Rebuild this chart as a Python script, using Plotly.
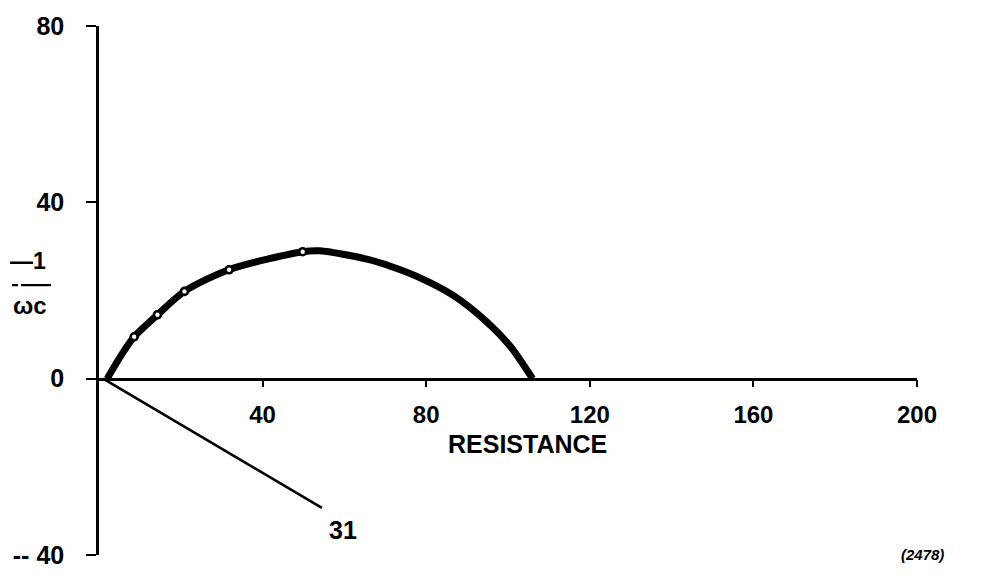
import plotly.graph_objects as go

# Impedance locus: resistance vs -1/(omega*C)
arc_r = [2.0, 4.3, 6.4, 8.6, 14.3, 20.9, 31.8, 49.8, 54.0, 65.5, 71.6, 77.7, 86.6, 94.8, 100.5, 106.0]
arc_x = [0.0, 3.6, 6.7, 9.5, 14.5, 19.8, 24.7, 28.8, 29.0, 27.1, 25.4, 23.2, 18.9, 12.9, 7.4, 0.0]

# measured points on the arc
pts_r = [8.6, 14.3, 20.9, 31.8, 49.8]
pts_x = [9.5, 14.5, 19.8, 24.7, 28.8]

# straight line ending at label "31"
ray_r = [1.0, 54.5]
ray_x = [0.0, -29.3]
ray_label = "31"
ray_label_pos = (59.7, -34.3)

x_ticks = [40, 80, 120, 160, 200]
x_ticktext = ["40", "80", "120", "160", "200"]
y_ticks = [-40, 0, 40, 80]
y_ticktext = ["-- 40", "0", "40", "80"]

FONT = "Liberation Sans, Arial, Helvetica, sans-serif"

fig = go.Figure()
fig.add_trace(go.Scatter(x=arc_r, y=arc_x, mode="lines",
                         line=dict(color="black", width=7, shape="spline", smoothing=0.8),
                         hoverinfo="skip"))
fig.add_trace(go.Scatter(x=ray_r, y=ray_x, mode="lines",
                         line=dict(color="black", width=2.6), hoverinfo="skip"))
fig.add_trace(go.Scatter(x=pts_r, y=pts_x, mode="markers",
                         marker=dict(symbol="circle", size=7, color="white",
                                     line=dict(color="black", width=2.6)),
                         hoverinfo="skip"))

fig.update_layout(
    width=984, height=581,
    margin=dict(l=99, r=67, t=25, b=19),
    paper_bgcolor="white", plot_bgcolor="white",
    showlegend=False,
    xaxis=dict(range=[0, 200], anchor="free", position=1/3,
               showline=True, linecolor="black", linewidth=2.6,
               showgrid=False, zeroline=False,
               tickmode="array", tickvals=x_ticks, ticktext=x_ticktext,
               ticks="outside", ticklen=7, tickwidth=2.4, tickcolor="black",
               ticklabelstandoff=7,
               tickfont=dict(family=FONT, size=24, color="black", weight="bold")),
    yaxis=dict(range=[-40, 80], domain=[0, 1],
               showline=True, linecolor="black", linewidth=2.6,
               showgrid=False, zeroline=False,
               tickmode="array", tickvals=y_ticks, ticktext=y_ticktext,
               ticks="outside", ticklen=10, tickwidth=2.4, tickcolor="black",
               ticklabelstandoff=17,
               tickfont=dict(family=FONT, size=25, color="black", weight="bold")),
)

annos = [
    dict(text="RESISTANCE", x=(527 - 99) / 818, y=(562 - 449) / 537, size=25, italic=False),
    dict(text="(2478)", x=(922 - 99) / 818, y=(562 - 561) / 537, size=15, italic=True),
    dict(text="—1", x=(28 - 99) / 818, y=(562 - 264) / 537, size=23, italic=False),
    dict(text="ωc", x=(30 - 99) / 818, y=(562 - 309) / 537, size=24, italic=False),
]
for a in annos:
    fig.add_annotation(text=a["text"], x=a["x"], y=a["y"], xref="paper", yref="paper",
                       xanchor="center", yanchor="middle", showarrow=False,
                       font=dict(family=FONT, size=a["size"], color="black", weight="bold",
                                 style="italic" if a["italic"] else "normal"))

fig.add_annotation(text=ray_label, x=ray_label_pos[0], y=ray_label_pos[1], xref="x", yref="y",
                   xanchor="center", yanchor="middle", showarrow=False,
                   font=dict(family=FONT, size=25, color="black", weight="bold"))

# fraction bar of the axis label
fig.add_shape(type="line", xref="paper", yref="paper",
              x0=(12 - 99) / 818, x1=(51 - 99) / 818,
              y0=(562 - 288) / 537, y1=(562 - 288) / 537,
              line=dict(color="black", width=2.2, dash="6px,3px,30px"))

fig.write_html("out.html")
